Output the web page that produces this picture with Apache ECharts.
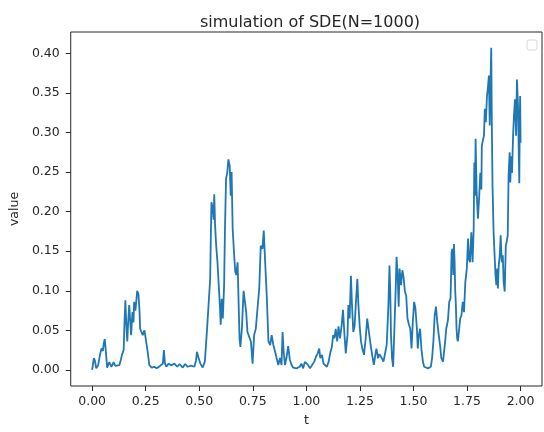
<!DOCTYPE html>
<html>
<head>
<meta charset="utf-8">
<script src="https://cdn.jsdelivr.net/npm/echarts@6/dist/echarts.min.js"></script>
<style>html,body{margin:0;padding:0;background:#fff;}#c{width:544px;height:432px;}</style>
</head>
<body>
<div id="c"></div>
<script>
const titleText = 'simulation of SDE(N=1000)';
const xName = 't';
const yName = 'value';
const xTicks = [0, 0.25, 0.5, 0.75, 1.0, 1.25, 1.5, 1.75, 2.0];
const yTicks = [0, 0.05, 0.1, 0.15, 0.2, 0.25, 0.3, 0.35, 0.4];

const times = [
0,0.003,0.008,0.0125,0.019,0.028,0.036,0.043,0.05,0.054,0.059,0.065,0.07,0.08,0.09,0.1,0.108,0.116,0.127,0.134,
0.139,0.147,0.151,0.155,0.159,0.164,0.168,0.173,0.178,0.182,0.188,0.193,0.196,0.202,0.207,0.21,0.216,0.221,0.224,0.232,
0.236,0.244,0.25,0.259,0.267,0.278,0.29,0.301,0.312,0.321,0.33,0.335,0.34,0.346,0.357,0.369,0.384,0.397,0.408,0.423,
0.434,0.446,0.462,0.477,0.485,0.489,0.497,0.505,0.516,0.526,0.531,0.536,0.543,0.551,0.554,0.557,0.563,0.567,0.57,0.574,
0.579,0.585,0.591,0.597,0.6,0.605,0.61,0.616,0.62,0.625,0.631,0.636,0.642,0.647,0.651,0.656,0.662,0.668,0.673,0.679,
0.684,0.688,0.692,0.699,0.707,0.715,0.719,0.725,0.733,0.741,0.749,0.756,0.764,0.772,0.78,0.787,0.795,0.801,0.807,0.815,
0.823,0.831,0.838,0.846,0.854,0.861,0.869,0.877,0.884,0.889,0.894,0.9,0.907,0.915,0.923,0.931,0.938,0.954,0.969,0.977,
0.985,0.993,1.0,1.006,1.017,1.026,1.037,1.045,1.053,1.06,1.065,1.073,1.08,1.088,1.096,1.104,1.111,1.119,1.125,1.131,
1.137,1.144,1.15,1.157,1.165,1.171,1.178,1.184,1.192,1.196,1.202,1.208,1.213,1.219,1.225,1.231,1.238,1.243,1.249,1.255,
1.261,1.269,1.277,1.284,1.292,1.3,1.307,1.315,1.323,1.327,1.335,1.341,1.344,1.352,1.36,1.368,1.375,1.383,1.388,1.392,
1.395,1.4,1.405,1.411,1.417,1.421,1.426,1.431,1.435,1.442,1.448,1.454,1.46,1.466,1.472,1.479,1.485,1.491,1.497,1.503,
1.509,1.516,1.52,1.525,1.531,1.537,1.544,1.55,1.556,1.568,1.581,1.587,1.593,1.599,1.605,1.611,1.618,1.624,1.63,1.638,
1.642,1.648,1.653,1.661,1.667,1.673,1.678,1.682,1.686,1.689,1.692,1.695,1.698,1.701,1.704,1.707,1.712,1.718,1.724,1.73,
1.736,1.742,1.749,1.755,1.759,1.764,1.77,1.776,1.781,1.784,1.787,1.79,1.795,1.801,1.807,1.812,1.817,1.819,1.824,1.829,
1.833,1.838,1.843,1.847,1.852,1.856,1.86,1.863,1.866,1.869,1.874,1.878,1.883,1.887,1.891,1.894,1.898,1.903,1.907,1.912,
1.917,1.921,1.926,1.931,1.935,1.94,1.944,1.949,1.952,1.956,1.96,1.965,1.969,1.974,1.979,1.983,1.988,1.991,1.994,1.996,
1.998,2.0
];

const values = [
0,0.002,0.015,0.012,0.002,0.006,0.018,0.027,0.024,0.033,0.039,0.02,0.003,0.01,0.004,0.01,0.005,0.003,0.006,0.013,
0.019,0.025,0.06,0.088,0.06,0.036,0.06,0.082,0.06,0.044,0.073,0.06,0.086,0.075,0.09,0.1,0.096,0.075,0.052,0.05,
0.044,0.05,0.04,0.023,0.006,0.003,0.004,0.002,0.004,0.003,0.008,0.025,0.008,0.004,0.008,0.0055,0.008,0.004,0.0075,0.003,
0.0075,0.004,0.0055,0.004,0.012,0.023,0.015,0.008,0.003,0.0105,0.03,0.05,0.052,0.115,0.17,0.212,0.204,0.19,0.222,0.182,
0.157,0.136,0.107,0.077,0.057,0.09,0.065,0.107,0.178,0.241,0.25,0.266,0.258,0.22,0.25,0.178,0.149,0.124,0.12,0.136,
0.082,0.04,0.029,0.052,0.1,0.1,0.073,0.048,0.042,0.036,0.008,0.044,0.052,0.078,0.103,0.157,0.153,0.176,0.14,0.094,
0.036,0.0315,0.044,0.0315,0.023,0.015,0.0063,0.015,0.0063,0.048,0.023,0.0063,0.015,0.03,0.0126,0.0063,0.003,0.002,0.004,0.008,
0.002,0.01,0.011,0.007,0.002,0.006,0.0105,0.017,0.021,0.027,0.015,0.019,0.008,0.006,0.004,0.0105,0.021,0.029,0.044,0.04,
0.052,0.036,0.055,0.04,0.057,0.076,0.044,0.021,0.044,0.082,0.065,0.119,0.082,0.048,0.055,0.084,0.115,0.082,0.055,0.036,
0.0273,0.019,0.04,0.065,0.048,0.0315,0.019,0.0063,0.021,0.027,0.0147,0.02,0.019,0.015,0.0105,0.0105,0.0315,0.082,0.132,0.094,
0.044,0.015,0.004,0.052,0.103,0.143,0.12,0.08,0.128,0.107,0.126,0.117,0.099,0.094,0.065,0.057,0.052,0.027,0.061,0.086,
0.078,0.052,0.027,0.044,0.052,0.027,0.0105,0.004,0.003,0.002,0.004,0.015,0.036,0.069,0.08,0.061,0.044,0.0315,0.015,0.0105,
0.0105,0.036,0.052,0.063,0.086,0.09,0.149,0.153,0.12,0.159,0.136,0.099,0.082,0.052,0.04,0.036,0.048,0.065,0.069,0.086,
0.073,0.111,0.128,0.166,0.14,0.136,0.174,0.136,0.178,0.262,0.22,0.292,0.224,0.191,0.22,0.249,0.228,0.283,0.29,0.296,
0.33,0.313,0.346,0.355,0.372,0.309,0.367,0.407,0.304,0.233,0.174,0.149,0.12,0.107,0.128,0.103,0.132,0.145,0.17,0.136,
0.145,0.111,0.099,0.157,0.162,0.17,0.245,0.275,0.237,0.27,0.249,0.296,0.321,0.342,0.296,0.367,0.334,0.283,0.236,0.31,
0.346,0.287
];

const seriesData = times.map((t, i) => [t, values[i]]);
const FONT = 'DejaVu Sans';
const TXT = '#262626';

const chart = echarts.init(document.getElementById('c'), null, {renderer: 'canvas'});
chart.setOption({
  animation: false,
  backgroundColor: '#ffffff',
  title: {
    text: titleText,
    left: 305, top: 10, textAlign: 'center',
    textStyle: {fontFamily: FONT, fontSize: 16, fontWeight: 'normal', color: TXT}
  },
  graphic: [{
    type: 'rect', shape: {x: 527, y: 40, width: 10, height: 10, r: 2},
    style: {fill: '#ffffff', stroke: '#d6d6d6', lineWidth: 1}, z: 10
  }],
  grid: {
    left: 67, top: 32, width: 475, height: 355,
    show: true, borderColor: '#262626', borderWidth: 1, backgroundColor: 'transparent'
  },
  xAxis: {
    type: 'value', min: -0.1, max: 2.1,
    name: xName, nameLocation: 'middle', nameGap: 28,
    nameTextStyle: {fontFamily: FONT, fontSize: 12.5, color: TXT},
    axisLine: {show: false, onZero: false},
    splitLine: {show: false},
    axisTick: {show: true, length: 5, customValues: xTicks, lineStyle: {color: '#262626'}},
    axisLabel: {
      customValues: xTicks, margin: 9,
      fontFamily: FONT, fontSize: 12.5, color: TXT,
      formatter: v => v.toFixed(2)
    }
  },
  yAxis: {
    type: 'value', min: -0.0203, max: 0.427,
    name: yName, nameLocation: 'middle', nameGap: 49,
    nameTextStyle: {fontFamily: FONT, fontSize: 12.5, color: TXT},
    axisLine: {show: false, onZero: false},
    splitLine: {show: false},
    axisTick: {show: true, length: 5, customValues: yTicks, lineStyle: {color: '#262626'}},
    axisLabel: {
      customValues: yTicks, margin: 11,
      fontFamily: FONT, fontSize: 12.5, color: TXT,
      formatter: v => v.toFixed(2)
    }
  },
  series: [{
    type: 'line',
    data: seriesData,
    showSymbol: false,
    lineStyle: {color: '#1f77b4', width: 1.8},
    itemStyle: {color: '#1f77b4'}
  }]
});
</script>
</body>
</html>
